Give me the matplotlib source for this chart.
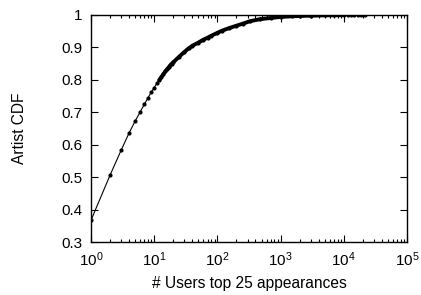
import matplotlib
matplotlib.use("Agg")
import matplotlib.pyplot as plt
import numpy as np
from matplotlib.ticker import LogLocator, LogFormatterMathtext, FixedLocator, NullFormatter

plt.rcParams['font.family'] = ['Liberation Sans', 'DejaVu Sans']
plt.rcParams['mathtext.fontset'] = 'custom'
plt.rcParams['mathtext.rm'] = 'Liberation Sans'
plt.rcParams['mathtext.it'] = 'Liberation Sans'
plt.rcParams['mathtext.default'] = 'regular'

users = [1, 2, 3, 4, 5, 6, 7, 8, 9, 10, 11, 12, 13, 14, 15, 16, 17, 18, 19, 20,
         25, 30, 35, 40, 50, 60, 70, 80, 100, 120, 150, 200, 250, 330, 470,
         700, 1000, 1500, 2000, 3000, 5000, 7000, 10000,
         11500, 13000, 14500, 16500, 19000, 22000]
cdf = [0.367, 0.506, 0.583, 0.636, 0.673, 0.701, 0.725, 0.745, 0.762, 0.776,
       0.789, 0.799, 0.809, 0.818, 0.826, 0.833, 0.839, 0.845, 0.850, 0.854,
       0.872, 0.886, 0.897, 0.905, 0.915, 0.924, 0.930, 0.936, 0.945, 0.952,
       0.959, 0.967, 0.973, 0.981, 0.987, 0.991, 0.994, 0.996, 0.997, 0.998,
       0.9988, 0.9992, 0.9995, 0.9996, 0.9997, 0.9998, 0.9998, 0.9999, 1.0]

y_ticks = [0.3, 0.4, 0.5, 0.6, 0.7, 0.8, 0.9, 1.0]
y_ticklabels = ['0.3', '0.4', '0.5', '0.6', '0.7', '0.8', '0.9', '1']

fig = plt.figure(figsize=(4.21, 2.95), dpi=100)
ax = fig.add_axes([91/421, 1-242/295, (407-91)/421, (242-15)/295])

x = np.array(users)
y = np.array(cdf)
dense = (x >= 12) & (x <= 10000)
ax.plot(x[dense], y[dense], '-', color='black', lw=2.8, solid_capstyle='round')
ax.plot(x, y, '-', color='black', lw=0.8, marker='o', markersize=2.0)

ax.set_xscale('log')
ax.set_xlim(1, 1e5)
ax.set_ylim(0.3, 1.0)
ax.xaxis.set_major_locator(LogLocator(base=10, numticks=10))
ax.xaxis.set_major_formatter(LogFormatterMathtext())
ax.xaxis.set_minor_locator(LogLocator(base=10, subs=np.arange(2, 10), numticks=20))
ax.xaxis.set_minor_formatter(NullFormatter())
ax.yaxis.set_major_locator(FixedLocator(y_ticks))
ax.set_yticklabels(y_ticklabels)

ax.tick_params(which='both', direction='in', top=True, right=True, labelsize=11, width=0.8)
ax.tick_params(axis='x', which='both', pad=6)
ax.tick_params(axis='y', which='both', pad=6)
ax.tick_params(which='major', length=5)
ax.tick_params(which='minor', length=2.5)
for s in ax.spines.values():
    s.set_linewidth(1.0)

ax.set_xlabel('# Users top 25 appearances', fontsize=11.2, labelpad=5)
ax.set_ylabel('Artist CDF', fontsize=11.2, labelpad=25)

fig.savefig('out.png', dpi=100)
